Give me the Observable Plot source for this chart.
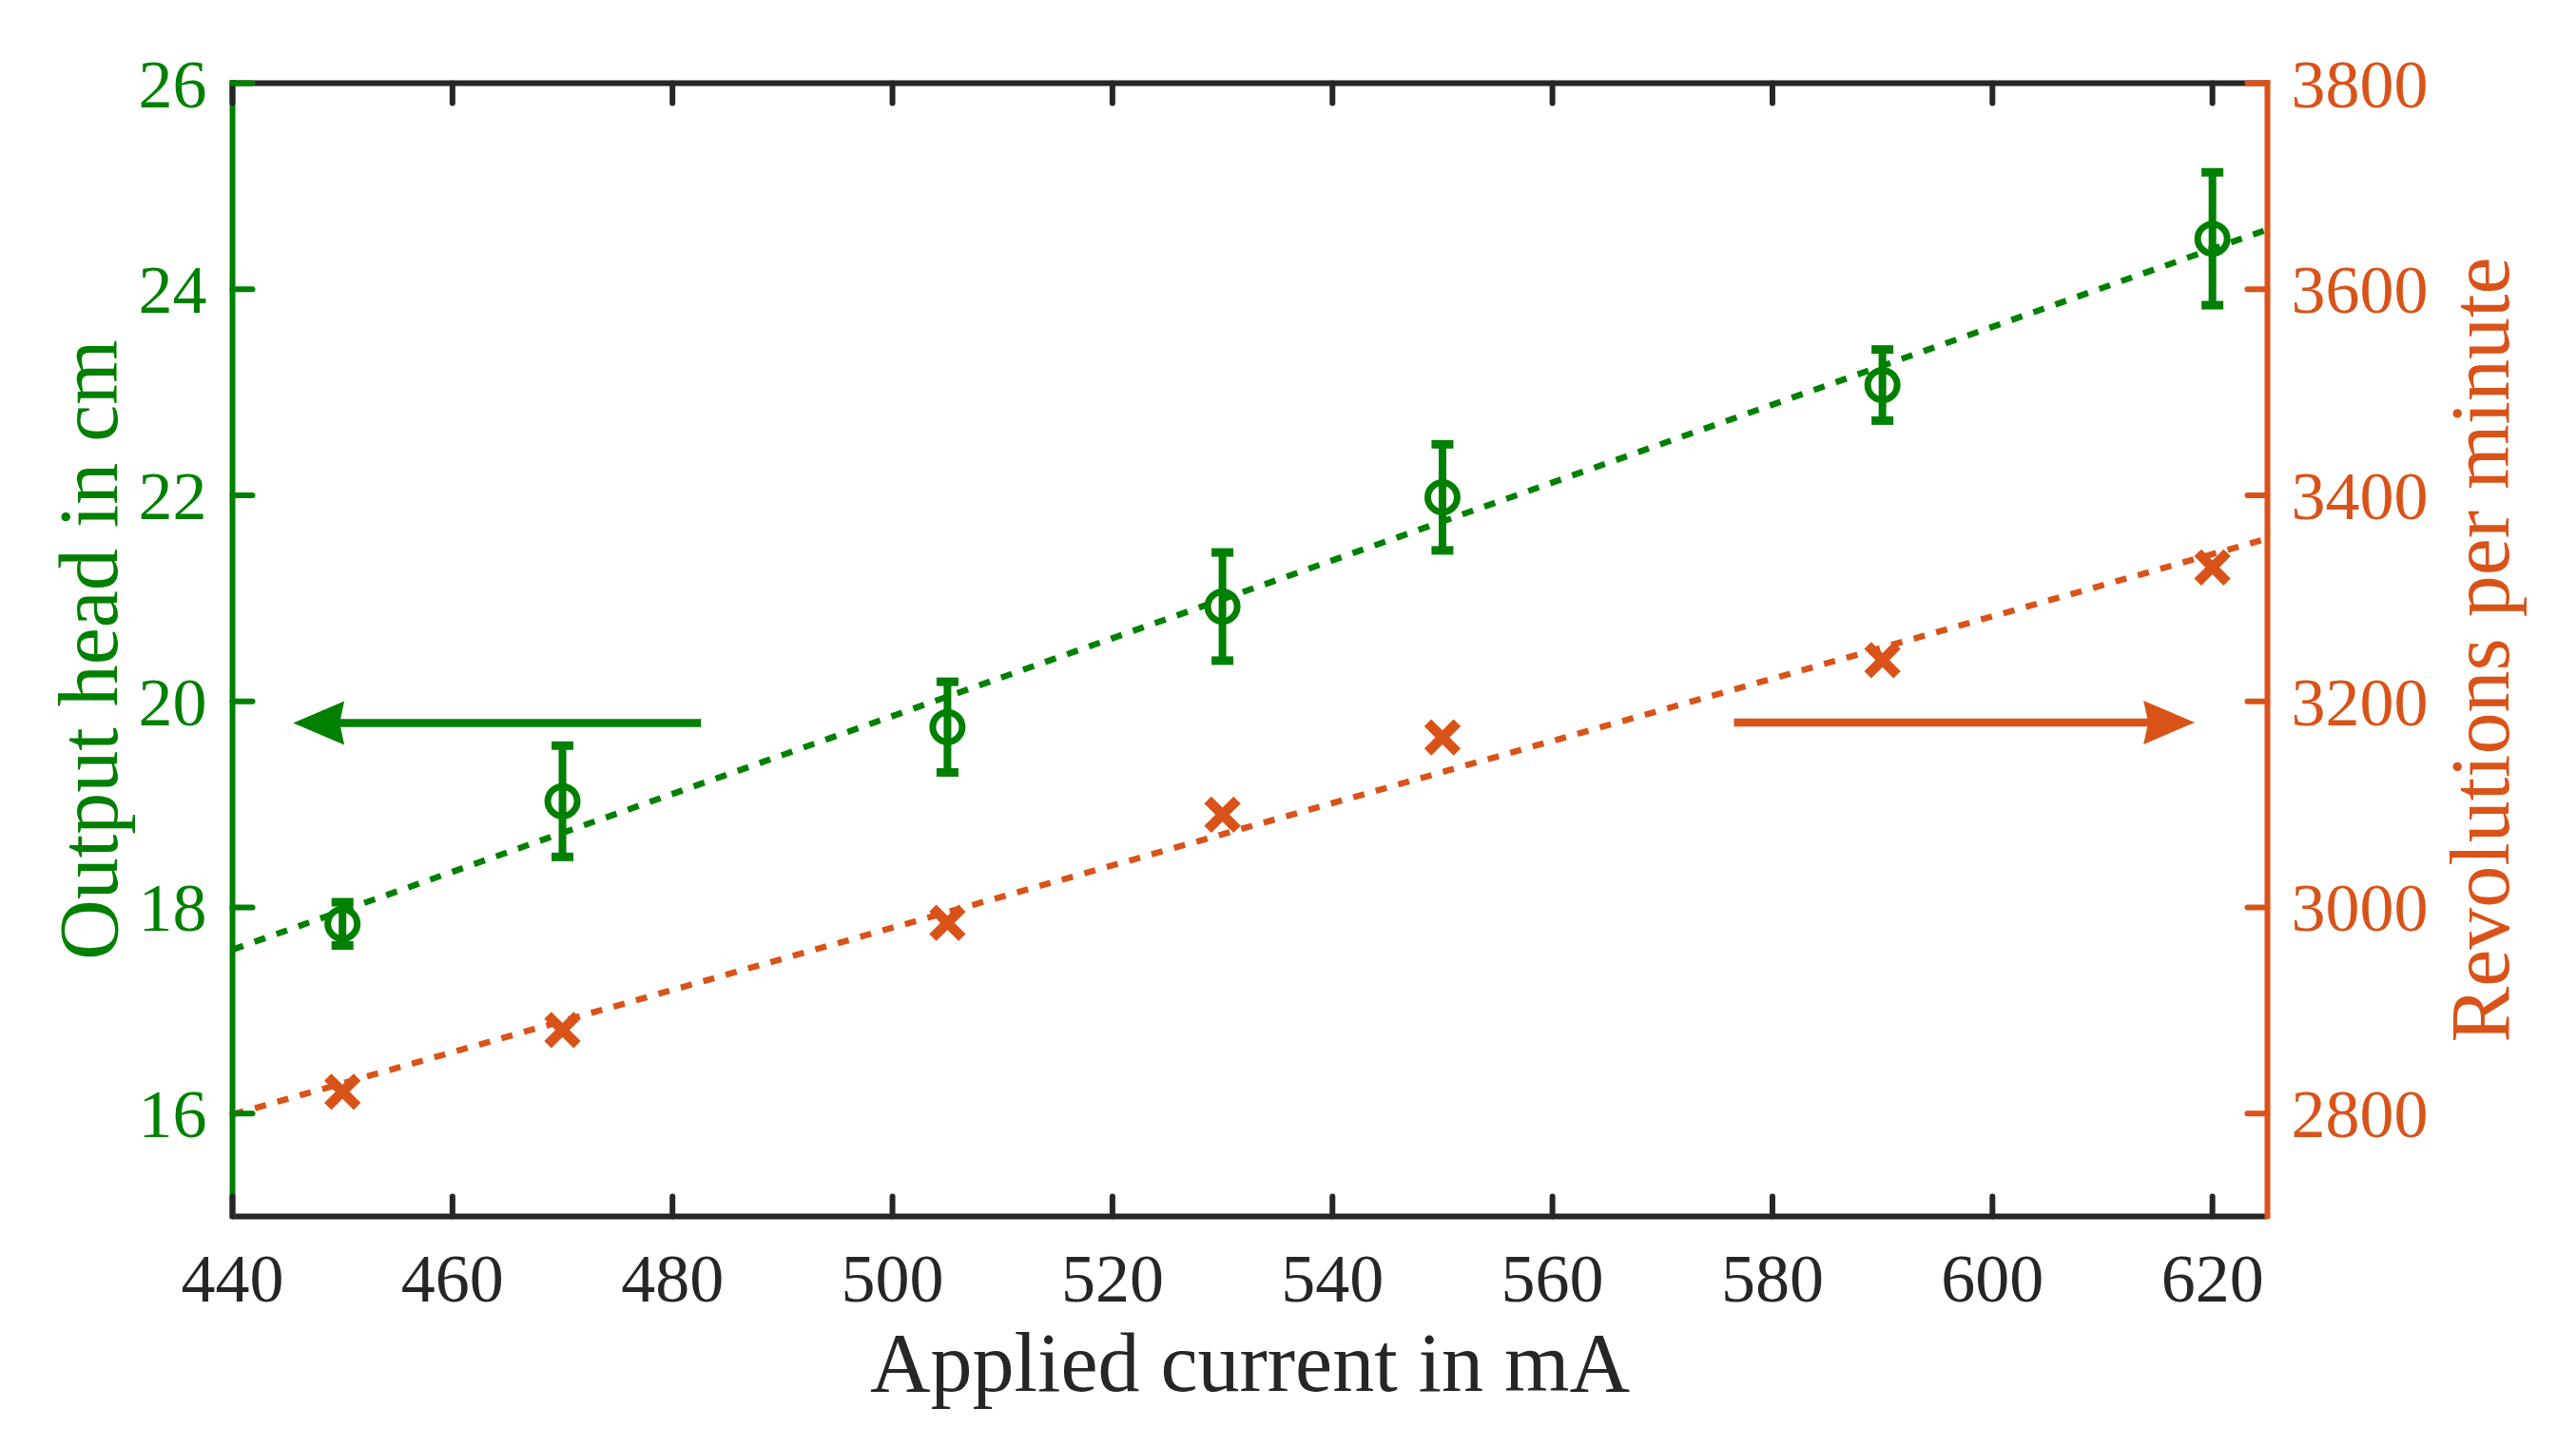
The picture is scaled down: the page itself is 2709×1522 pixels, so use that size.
<!DOCTYPE html>
<html>
<head>
<meta charset="utf-8">
<script src="https://cdn.jsdelivr.net/npm/d3@7"></script>
<script src="https://cdn.jsdelivr.net/npm/@observablehq/plot@0.6"></script>
<style>
  html, body { margin: 0; padding: 0; background: #fff; }
  #chart { width: 2709px; height: 1522px; }
</style>
</head>
<body>
<div id="chart"></div>
<script>
// ---- data ----
const current = [450, 470, 505, 530, 550, 590, 620];          // mA
const head    = [17.84, 19.03, 19.75, 20.92, 21.98, 23.07, 24.49]; // cm
const headErr = [0.21, 0.54, 0.44, 0.525, 0.515, 0.345, 0.645];    // cm
const rpm     = [2821, 2881, 2985, 3090, 3165, 3240, 3330];        // rev/min

const fitCurrent = [440, 625];
const headFit    = [17.59, 24.58];
const rpmFit     = [2799, 3358];

const xTicks     = [440, 460, 480, 500, 520, 540, 560, 580, 600, 620];
const headTicks  = [16, 18, 20, 22, 24, 26];
const rpmTicks   = [2800, 3000, 3200, 3400, 3600, 3800];

const headArrow = {from: 482.6, to: 445.5, y: 19.79};   // left-axis arrow (cm)
const rpmArrow  = {from: 576.5, to: 618.4, y: 3179.5};  // right-axis arrow (rpm)

const xDomain = [440, 625];
const headDomain = [15, 26];
const rpmDomain = [2700, 3800];

// ---- styles ----
const GREEN = "#008000";
const ORANGE = "#D95319";
const INK = "#262626";
const FONT = "'Liberation Serif', 'Times New Roman', serif";

// right axis (rpm) mapped onto the left scale (cm)
const toLeft = v => headDomain[0] + (v - rpmDomain[0]) * (headDomain[1] - headDomain[0]) / (rpmDomain[1] - rpmDomain[0]);
const fromLeft = v => Math.round(rpmDomain[0] + (v - headDomain[0]) * (rpmDomain[1] - rpmDomain[0]) / (headDomain[1] - headDomain[0]));

const headRows = current.map((c, i) => ({c, h: head[i], lo: head[i] - headErr[i], hi: head[i] + headErr[i]}));
const rpmRows = current.map((c, i) => ({c, v: toLeft(rpm[i])}));
const headFitRows = fitCurrent.map((c, i) => ({c, v: headFit[i]}));
const rpmFitRows = fitCurrent.map((c, i) => ({c, v: toLeft(rpmFit[i])}));
const arrows = [
  {x1: headArrow.from, x2: headArrow.to, y: headArrow.y, color: GREEN, rot: 180},
  {x1: rpmArrow.from, x2: rpmArrow.to, y: toLeft(rpmArrow.y), color: ORANGE, rot: 0}
];

const capSymbol = {draw(ctx) { ctx.moveTo(-11.5, 0); ctx.lineTo(11.5, 0); }};
const headSymbol = {draw(ctx) {
  ctx.moveTo(0, 0); ctx.lineTo(-54, -23); ctx.lineTo(-49, 0); ctx.lineTo(-54, 23); ctx.closePath();
}};
const tickShape = {draw(ctx, l) { ctx.moveTo(0, 0); ctx.lineTo(0, -l); }};

const labelFont = {fontSize: 72, fontFamily: FONT};

const chart = Plot.plot({
  width: 2709, height: 1522,
  marginLeft: 244, marginRight: 325, marginTop: 87, marginBottom: 243,
  style: {fontFamily: FONT, fontSize: "72px", background: "white", color: INK},
  x: {domain: xDomain, label: null},
  y: {domain: headDomain, label: null},
  marks: [
    // fit lines
    Plot.line(headFitRows, {x: "c", y: "v", stroke: GREEN, strokeWidth: 6.5, strokeDasharray: "12,12.5", strokeLinecap: "butt"}),
    Plot.line(rpmFitRows, {x: "c", y: "v", stroke: ORANGE, strokeWidth: 6.5, strokeDasharray: "12,12.5", strokeLinecap: "butt"}),
    // error bars
    Plot.ruleX(headRows, {x: "c", y1: "lo", y2: "hi", stroke: GREEN, strokeWidth: 8}),
    Plot.dot(headRows, {x: "c", y: "lo", symbol: capSymbol, fill: "none", stroke: GREEN, strokeWidth: 9}),
    Plot.dot(headRows, {x: "c", y: "hi", symbol: capSymbol, fill: "none", stroke: GREEN, strokeWidth: 9}),
    // markers
    Plot.dot(headRows, {x: "c", y: "h", r: 15.5, fill: "none", stroke: GREEN, strokeWidth: 7}),
    Plot.dot(rpmRows, {x: "c", y: "v", symbol: "times", r: 14.1, fill: "none", stroke: ORANGE, strokeWidth: 10.5, strokeLinecap: "butt"}),
    // arrows
    Plot.arrow(arrows, {x1: "x1", x2: "x2", y1: "y", y2: "y", stroke: "color", strokeWidth: 8.5, headLength: 0, insetEnd: 46, strokeLinecap: "butt"}),
    Plot.dot(arrows, {x: "x2", y: "y", symbol: headSymbol, fill: "color", stroke: "none", rotate: "rot"}),
    // frame
    Plot.ruleY([headDomain[1]], {stroke: INK, strokeWidth: 6}),
    Plot.ruleY([headDomain[0]], {stroke: INK, strokeWidth: 6}),
    Plot.ruleX([xDomain[0]], {stroke: GREEN, strokeWidth: 6, strokeLinecap: "square"}),
    Plot.ruleX([xDomain[1]], {stroke: ORANGE, strokeWidth: 6, strokeLinecap: "square"}),
    // inward ticks
    Plot.vector(xTicks, {x: d => d, y: headDomain[0], length: 21, rotate: 0, anchor: "start", shape: tickShape, stroke: INK, strokeWidth: 6}),
    Plot.vector(xTicks, {x: d => d, y: headDomain[1], length: 21, rotate: 180, anchor: "start", shape: tickShape, stroke: INK, strokeWidth: 6}),
    Plot.vector(headTicks, {x: xDomain[0], y: d => d, length: 21, rotate: 90, anchor: "start", shape: tickShape, stroke: GREEN, strokeWidth: 6}),
    Plot.vector(rpmTicks.map(toLeft), {x: xDomain[1], y: d => d, length: 21, rotate: 270, anchor: "start", shape: tickShape, stroke: ORANGE, strokeWidth: 6}),
    // tick labels
    Plot.axisX({anchor: "bottom", ticks: xTicks, tickSize: 0, tickPadding: 38, color: INK, label: null, ...labelFont}),
    Plot.axisY({anchor: "left", ticks: headTicks, tickSize: 0, tickPadding: 27, dy: 2, color: GREEN, label: null, ...labelFont}),
    Plot.axisY({anchor: "right", ticks: rpmTicks.map(toLeft), tickFormat: d => String(fromLeft(d)), tickSize: 0, tickPadding: 25, dy: 2, color: ORANGE, label: null, ...labelFont}),
    // titles
    Plot.text(["Applied current in mA"], {frameAnchor: "bottom", dy: 183, lineAnchor: "bottom", textAnchor: "middle", fontSize: 88, fontFamily: FONT, fill: INK}),
    Plot.text(["Output head in cm"], {frameAnchor: "left", dx: -122, rotate: -90, lineAnchor: "bottom", textAnchor: "middle", fontSize: 88, fontFamily: FONT, fill: GREEN}),
    Plot.text(["Revolutions per minute"], {frameAnchor: "right", dx: 253, rotate: -90, lineAnchor: "bottom", textAnchor: "middle", fontSize: 88, fontFamily: FONT, fill: ORANGE})
  ]
});
document.getElementById("chart").appendChild(chart);
</script>
</body>
</html>
